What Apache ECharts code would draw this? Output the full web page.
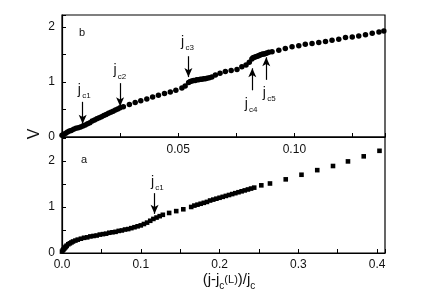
<!DOCTYPE html>
<html><head><meta charset="utf-8">
<script src="https://cdn.jsdelivr.net/npm/echarts@6/dist/echarts.min.js"></script>
<style>html,body{margin:0;padding:0;background:#fff}#c{width:429px;height:300px}</style>
</head><body><div id="c"></div>
<script>
// Panel b (upper): reduced current vs voltage, circles
const xB = [0.0000,0.0008,0.0016,0.0024,0.0032,0.0040,0.0050,0.0060,0.0070,0.0080,0.0090,
  0.0100,0.0110,0.0120,0.0130,0.0140,0.0150,0.0160,0.0170,0.0180,0.0190,0.0200,0.0210,0.0220,0.0230,0.0240,0.0250,
  0.0264,0.0290,0.0315,0.0339,0.0365,0.0390,0.0415,0.0441,0.0466,0.0490,0.0516,0.0530,
  0.0545,0.0552,0.0559,0.0566,0.0573,0.0580,0.0588,0.0595,0.0602,0.0610,0.0617,0.0624,0.0634,0.0645,
  0.0660,0.0680,0.0703,0.0728,0.0753,0.0774,0.0792,0.0806,
  0.0817,0.0822,0.0828,0.0834,0.0840,0.0846,0.0852,0.0858,0.0864,0.0870,0.0876,0.0882,0.0890,
  0.0904,0.0933,0.0961,0.0990,0.1019,0.1047,0.1076,0.1105,0.1134,0.1162,0.1191,0.1220,0.1249,0.1277,0.1306,0.1335,0.1364,0.1385];
const vB = [0.03,0.05,0.07,0.09,0.11,0.12,0.14,0.16,0.17,0.18,0.20,
  0.22,0.24,0.26,0.29,0.31,0.33,0.35,0.37,0.39,0.41,0.43,0.45,0.47,0.49,0.51,0.53,
  0.55,0.59,0.63,0.66,0.69,0.73,0.76,0.79,0.82,0.85,0.89,0.93,
  0.99,1.01,1.02,1.03,1.03,1.04,1.04,1.05,1.05,1.06,1.06,1.07,1.08,1.09,
  1.13,1.16,1.19,1.21,1.23,1.28,1.31,1.36,
  1.42,1.44,1.45,1.46,1.47,1.48,1.49,1.50,1.51,1.51,1.52,1.53,1.54,
  1.55,1.58,1.61,1.64,1.66,1.69,1.70,1.72,1.74,1.76,1.78,1.81,1.82,1.84,1.86,1.89,1.91,1.93];
// Panel a (lower): squares
const xA = [0.000,0.001,0.002,0.003,0.004,0.005,0.006,0.008,0.010,0.012,0.014,0.017,0.020,0.024,0.028,
  0.032,0.036,0.040,0.044,0.048,0.052,0.056,0.060,0.064,0.068,0.072,0.076,0.080,0.084,0.088,0.092,
  0.096,0.100,0.104,0.108,0.112,0.116,0.120,0.124,0.128,
  0.136,0.145,0.154,0.164,
  0.168,0.172,0.176,0.180,0.184,0.188,0.192,0.196,0.200,0.204,0.208,0.212,0.216,0.220,0.224,0.228,0.232,0.236,0.240,0.244,
  0.253,0.264,0.284,0.304,0.324,0.344,0.363,0.383,0.403];
const vA = [0.03,0.06,0.08,0.10,0.12,0.14,0.16,0.19,0.21,0.23,0.25,0.27,0.29,0.31,0.33,
  0.34,0.36,0.37,0.38,0.40,0.41,0.42,0.44,0.45,0.46,0.48,0.49,0.51,0.52,0.54,0.56,
  0.58,0.60,0.63,0.66,0.70,0.74,0.77,0.80,0.83,
  0.87,0.91,0.95,1.00,
  1.03,1.05,1.07,1.09,1.11,1.14,1.16,1.18,1.20,1.22,1.24,1.26,1.28,1.30,1.32,1.34,1.36,1.38,1.40,1.42,
  1.47,1.51,1.60,1.70,1.80,1.89,1.99,2.10,2.22];
// tick labels
const xTickLabelsB = {'0.05':'0.05','0.1':'0.10'};
const xTickLabelsA = ['0.0','0.1','0.2','0.3','0.4'];
const yTickLabels = ['0','1','2'];
// annotations: [x, vFrom, vTo, labelX, labelV, subscript]
const arrowsB = [
  [0.0089,0.64,0.24,0.0075,0.855,'c1'],
  [0.0250,0.98,0.56,0.0228,1.21,'c2'],
  [0.0544,1.47,1.09,0.0519,1.73,'c3'],
  [0.0819,0.85,1.25,0.0793,0.60,'c4'],
  [0.0879,1.04,1.45,0.0871,0.80,'c5']
];
const arrowsA = [
  [0.1175,1.30,0.85,0.1148,1.54,'c1']
];

const FONT = 'Liberation Sans, Arial, sans-serif';
const chart = echarts.init(document.getElementById('c'));
const yFmt = v => { const r = Math.round(v); return Math.abs(v - r) < 1e-6 && yTickLabels.includes(String(r)) ? String(r) : ''; };
const axisCommon = {
  type:'value',
  axisLine:{onZero:false,lineStyle:{color:'#000',width:1.2}},
  axisTick:{inside:true,length:4,lineStyle:{color:'#000',width:1}},
  splitLine:{show:false},
  axisLabel:{color:'#111',fontSize:12,fontFamily:FONT}
};
function mkLine(list){
  return {
    silent:true, symbol:['none','arrow'], symbolSize:[6,9],
    label:{show:false},
    lineStyle:{color:'#000',width:1.2,type:'solid',opacity:1},
    itemStyle:{color:'#000'},
    emphasis:{disabled:true},
    data:list.map(a=>[{coord:[a[0],a[1]]},{coord:[a[0],a[2]]}])
  };
}
chart.setOption({
  animation:false,
  grid:[
    {left:62,top:15,width:323,height:122,show:true,borderColor:'#000',borderWidth:1.2,backgroundColor:'transparent'},
    {left:62,top:137,width:323,height:116,show:true,borderColor:'#000',borderWidth:1.2,backgroundColor:'transparent'}
  ],
  xAxis:[
    Object.assign({},axisCommon,{gridIndex:0,min:0,max:0.139,interval:0.025,
      axisLabel:Object.assign({},axisCommon.axisLabel,{margin:7,formatter:v=>{
        for (const k in xTickLabelsB) if (Math.abs(v-parseFloat(k))<1e-6) return xTickLabelsB[k]; return '';}})}),
    Object.assign({},axisCommon,{gridIndex:1,min:0,max:0.41,interval:0.05,
      axisLabel:Object.assign({},axisCommon.axisLabel,{margin:6,formatter:v=>{
        const k=Math.round(v*10); return Math.abs(v*10-k)<1e-6 && xTickLabelsA[k]!==undefined ? xTickLabelsA[k] : '';}})})
  ],
  yAxis:[
    Object.assign({},axisCommon,{gridIndex:0,min:0,max:2.22,interval:0.5,
      axisLabel:Object.assign({},axisCommon.axisLabel,{margin:7,formatter:yFmt})}),
    Object.assign({},axisCommon,{gridIndex:1,min:0,max:2.52,interval:0.5,
      axisLabel:Object.assign({},axisCommon.axisLabel,{margin:7,formatter:yFmt})})
  ],
  series:[
    {type:'scatter',xAxisIndex:0,yAxisIndex:0,symbol:'circle',symbolSize:5.5,clip:false,
      itemStyle:{color:'#000',opacity:1},data:xB.map((x,i)=>[x,vB[i]]),markLine:mkLine(arrowsB)},
    {type:'scatter',xAxisIndex:1,yAxisIndex:1,symbol:'rect',symbolSize:4.6,clip:false,
      itemStyle:{color:'#000',opacity:1},data:xA.map((x,i)=>[x,vA[i]]),markLine:mkLine(arrowsA)}
  ]
});

const g = [];
function addLabel(gi, a){
  const p = chart.convertToPixel({gridIndex:gi},[a[3],a[4]]);
  g.push({type:'text',x:p[0],y:p[1],style:{text:'j',fontSize:14,fontFamily:FONT,fill:'#111',align:'center',verticalAlign:'middle'}});
  g.push({type:'text',x:p[0]+7,y:p[1]+6,style:{text:a[5],fontSize:8,fontFamily:FONT,fill:'#111',align:'center',verticalAlign:'middle'}});
}
arrowsB.forEach(a=>addLabel(0,a));
arrowsA.forEach(a=>addLabel(1,a));
g.push({type:'text',x:82,y:33,style:{text:'b',fontSize:11,fontFamily:FONT,fill:'#111',align:'center',verticalAlign:'middle'}});
g.push({type:'text',x:84,y:160,style:{text:'a',fontSize:11,fontFamily:FONT,fill:'#111',align:'center',verticalAlign:'middle'}});
g.push({type:'text',x:35,y:134,rotation:Math.PI/2,style:{text:'V',fontSize:16,fontFamily:FONT,fill:'#111',align:'center',verticalAlign:'middle'}});

// x-axis title built from pieces: (j-j_c(L))/j_c
const pieces = [
  {t:'(j-j', size:15, dy:0},
  {t:'c', size:10, dy:6},
  {t:'(L)', size:11, dy:0},
  {t:')/j', size:15, dy:0},
  {t:'c', size:10, dy:6}
];
const ctx = document.createElement('canvas').getContext('2d');
let widths = pieces.map(p=>{ctx.font = p.size+'px '+FONT; return ctx.measureText(p.t).width;});
const total = widths.reduce((s,w)=>s+w,0);
let cx = 229 - total/2;
pieces.forEach((p,i)=>{
  g.push({type:'text',x:cx,y:280+p.dy,style:{text:p.t,fontSize:p.size,fontFamily:FONT,fill:'#111',align:'left',verticalAlign:'middle'}});
  cx += widths[i];
});
chart.setOption({graphic:g});
</script>
</body></html>
